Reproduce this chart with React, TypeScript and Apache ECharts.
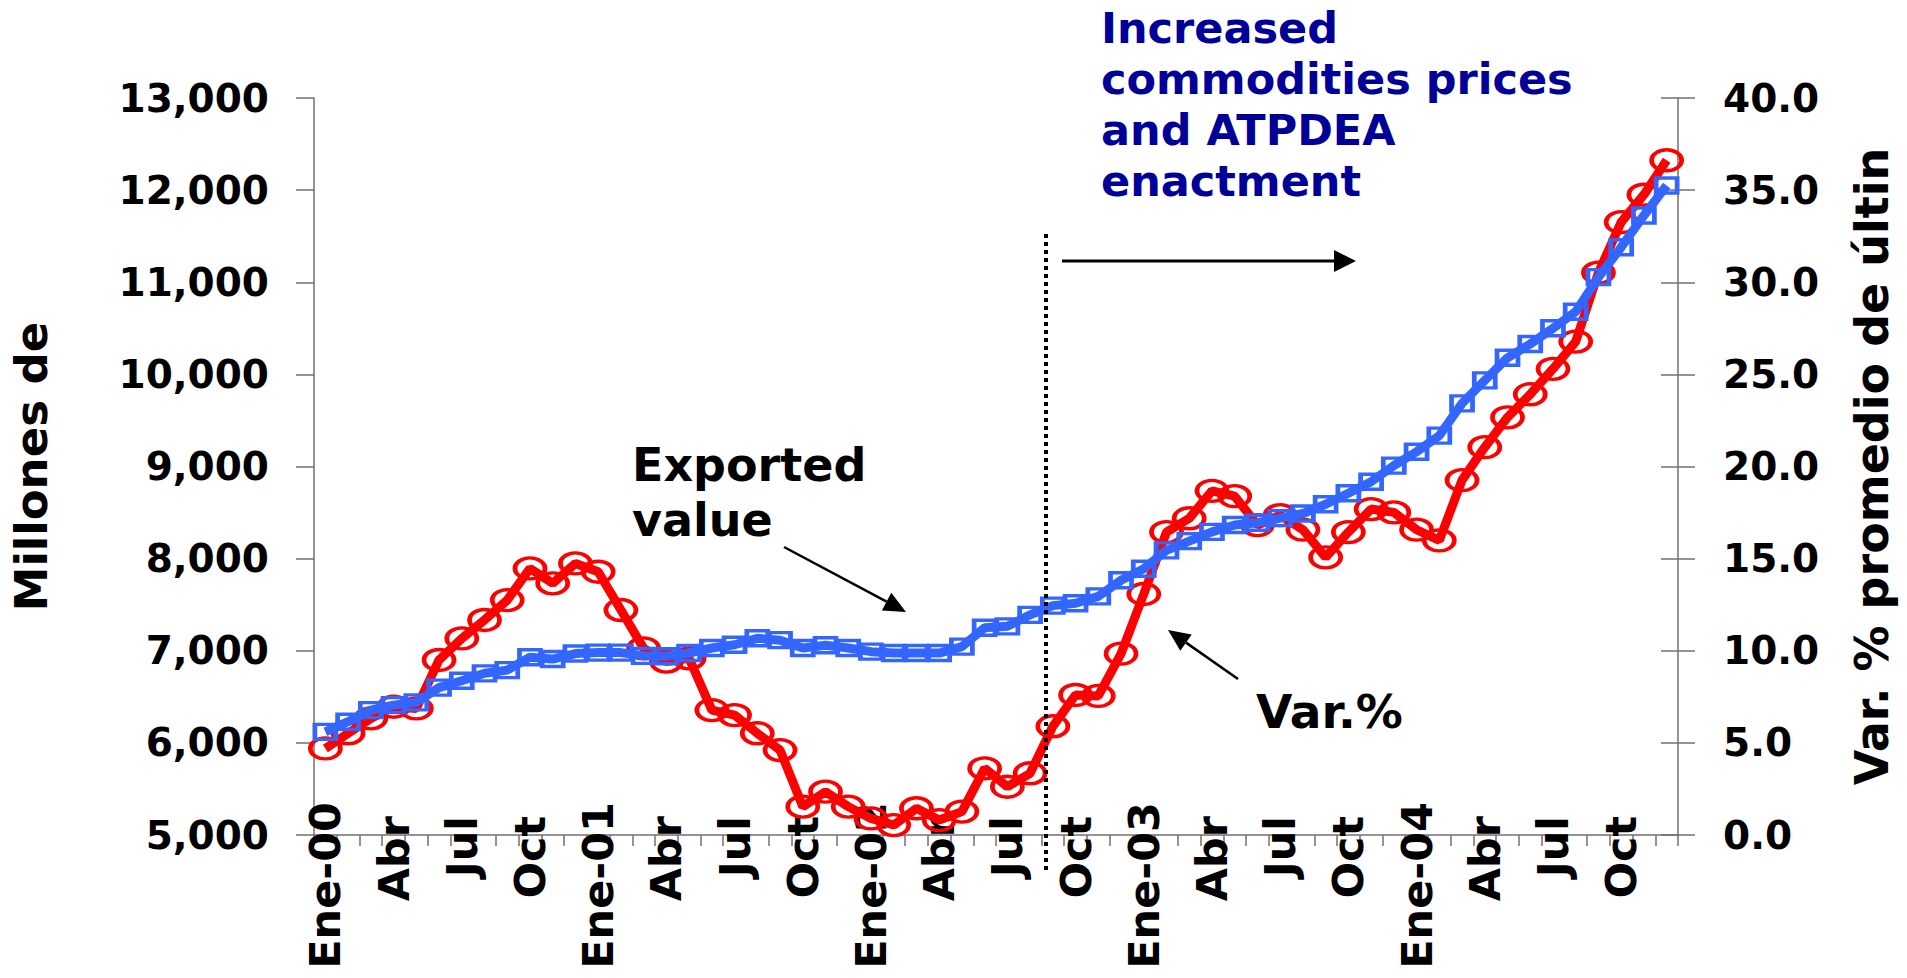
import React, { useEffect, useRef } from 'react';
import * as echarts from 'echarts';

const MONTHS = ['Ene', 'Feb', 'Mar', 'Abr', 'May', 'Jun', 'Jul', 'Ago', 'Sep', 'Oct', 'Nov', 'Dic'];
const YEARS = ['00', '01', '02', '03', '04'];
const categories = YEARS.flatMap((y) => MONTHS.map((m) => `${m}-${y}`));

// Exported value (Millones de US$), left axis
const exportedValue = [
  6120, 6230, 6355, 6410, 6440, 6600, 6675, 6755, 6790, 6930,
  6910, 6970, 6980, 6980, 6945, 6940, 6975, 7030, 7065, 7135,
  7115, 7030, 7060, 7030, 6990, 6975, 6975, 6975, 7045, 7250,
  7265, 7390, 7490, 7515, 7590, 7765, 7890, 8090, 8190, 8290,
  8365, 8390, 8440, 8490, 8590, 8710, 8835, 9010, 9160, 9335,
  9685, 9935, 10180, 10330, 10500, 10680, 11055, 11380, 11725, 12050,
];

// Var. % (right axis)
const varPct = [
  4.7, 5.52, 6.33, 6.96, 6.87, 9.5, 10.67, 11.67, 12.75, 14.47,
  13.66, 14.74, 14.29, 12.21, 10.13, 9.41, 9.59, 6.78, 6.51, 5.52,
  4.61, 1.54, 2.35, 1.54, 0.9, 0.54, 1.45, 0.81, 1.27, 3.62,
  2.62, 3.35, 5.9, 7.6, 7.55, 9.84, 13.08, 16.44, 17.19, 18.68,
  18.39, 16.82, 17.36, 16.57, 15.07, 16.44, 17.69, 17.51, 16.57, 15.99,
  19.26, 21.05, 22.67, 23.92, 25.3, 26.78, 30.52, 33.26, 34.75, 36.62,
];

const leftAxisName = 'Millones de';
const rightAxisName = 'Var. % promedio de últin';
const noteTitle = 'Increased\ncommodities prices\nand ATPDEA\nenactment';
const noteExported = 'Exported\nvalue';
const noteVar = 'Var.%';

const FONT = '"DejaVu Sans", Verdana, sans-serif';
const AXIS_GRAY = '#707070';
const ELLIPSE = 'path://M0,10A20,10 0 1,1 40,10A20,10 0 1,1 0,10Z';

function arrow(x1: number, y1: number, x2: number, y2: number, len = 22, half = 10, width = 2.5) {
  const a = Math.atan2(y2 - y1, x2 - x1);
  const bx = x2 - len * Math.cos(a);
  const by = y2 - len * Math.sin(a);
  const px = -Math.sin(a) * half;
  const py = Math.cos(a) * half;
  return [
    { type: 'line', shape: { x1, y1, x2: bx, y2: by }, style: { stroke: '#000', lineWidth: width }, silent: true, z: 20 },
    {
      type: 'polygon',
      shape: { points: [[x2, y2], [bx + px, by + py], [bx - px, by - py]] },
      style: { fill: '#000' },
      silent: true,
      z: 20,
    },
  ];
}

export default function App() {
  const ref = useRef<HTMLDivElement>(null);

  useEffect(() => {
    if (!ref.current) return;
    const chart = echarts.init(ref.current, undefined, { renderer: 'svg' });
    const labelText = { fontFamily: FONT, fontWeight: 'bold' as const, color: '#000' };

    chart.setOption({
      animation: false,
      backgroundColor: '#fff',
      grid: { left: 314, right: 229, top: 98, bottom: 143, containLabel: false },
      xAxis: [
        {
          type: 'category',
          data: categories,
          boundaryGap: true,
          axisLine: { show: true, lineStyle: { color: AXIS_GRAY, width: 1.5 } },
          axisTick: { show: true, interval: 0, length: 11, lineStyle: { color: AXIS_GRAY, width: 1.5 } },
          axisLabel: {
            interval: 2,
            rotate: 90,
            margin: -33,
            fontSize: 43,
            ...labelText,
            formatter: (v: string) => (v.startsWith('Ene') ? v : `{m|${v.slice(0, 3)}}`),
            rich: { m: { padding: [0, 14, 0, 0], fontSize: 43, ...labelText } },
          },
          splitLine: { show: false },
        },
      ],
      yAxis: [
        {
          type: 'value',
          position: 'left',
          min: 5000,
          max: 13000,
          interval: 1000,
          axisLine: { show: true, lineStyle: { color: AXIS_GRAY, width: 1.5 } },
          axisTick: { show: true, length: 18, lineStyle: { color: AXIS_GRAY, width: 1.5 } },
          axisLabel: {
            margin: 45,
            fontSize: 39,
            ...labelText,
            formatter: (v: number) => v.toLocaleString('en-US'),
          },
          splitLine: { show: false },
          name: leftAxisName,
          nameLocation: 'middle',
          nameRotate: 90,
          nameGap: 260,
          nameTextStyle: { fontSize: 45, ...labelText },
        },
        {
          type: 'value',
          position: 'right',
          min: 0,
          max: 40,
          interval: 5,
          axisLine: { show: true, lineStyle: { color: AXIS_GRAY, width: 1.5 } },
          axisTick: { show: true, length: 17, lineStyle: { color: AXIS_GRAY, width: 1.5 } },
          axisLabel: {
            margin: 45,
            fontSize: 39,
            ...labelText,
            formatter: (v: number) => v.toFixed(1),
          },
          splitLine: { show: false },
          name: rightAxisName,
          nameLocation: 'middle',
          nameRotate: 90,
          nameGap: 171,
          nameTextStyle: { fontSize: 46, ...labelText },
        },
        {
          type: 'value',
          position: 'right',
          min: 0,
          max: 40,
          interval: 5,
          axisLine: { show: false },
          axisTick: { show: true, inside: true, length: 17, lineStyle: { color: AXIS_GRAY, width: 1.5 } },
          axisLabel: { show: false },
          splitLine: { show: false },
        },
      ],
      series: [
        {
          type: 'line',
          name: 'Var.%',
          yAxisIndex: 1,
          data: varPct,
          symbol: ELLIPSE,
          symbolSize: [30, 21],
          showSymbol: true,
          showAllSymbol: true,
          lineStyle: { color: '#FF0000', width: 9 },
          itemStyle: { color: 'rgba(0,0,0,0)', borderColor: '#FF0000', borderWidth: 4 },
          emphasis: { disabled: true },
          silent: true,
          z: 3,
        },
        {
          type: 'line',
          name: 'Exported value',
          yAxisIndex: 0,
          data: exportedValue,
          symbol: 'rect',
          symbolSize: [21, 15],
          showSymbol: true,
          showAllSymbol: true,
          lineStyle: { color: '#3366FF', width: 9 },
          itemStyle: { color: 'rgba(0,0,0,0)', borderColor: '#3366FF', borderWidth: 4 },
          emphasis: { disabled: true },
          silent: true,
          z: 4,
        },
      ],
      graphic: [
        {
          type: 'text',
          x: 1101,
          y: 2,
          silent: true,
          style: {
            text: noteTitle,
            fill: '#000099',
            fontFamily: FONT,
            fontWeight: 'bold',
            fontSize: 43,
            lineHeight: 51,
            align: 'left',
            verticalAlign: 'top',
          },
          z: 20,
        },
        {
          type: 'text',
          x: 632,
          y: 437,
          silent: true,
          style: {
            text: noteExported,
            fill: '#000',
            fontFamily: FONT,
            fontWeight: 'bold',
            fontSize: 46,
            lineHeight: 55,
            align: 'left',
            verticalAlign: 'top',
          },
          z: 20,
        },
        {
          type: 'text',
          x: 1256,
          y: 711,
          silent: true,
          style: {
            text: noteVar,
            fill: '#000',
            fontFamily: FONT,
            fontWeight: 'bold',
            fontSize: 47,
            align: 'left',
            verticalAlign: 'middle',
          },
          z: 20,
        },
        {
          type: 'line',
          silent: true,
          shape: { x1: 1046, y1: 234, x2: 1046, y2: 871 },
          style: { stroke: '#000', lineWidth: 4, lineDash: [4, 4] },
          z: 20,
        },
        ...arrow(1062, 261, 1356, 261, 22, 11, 3),
        ...arrow(784, 547, 906, 612, 22, 10, 2.5),
        ...arrow(1238, 679, 1168, 630, 22, 10, 2.5),
      ],
    });

    return () => chart.dispose();
  }, []);

  return (
    <div
      ref={ref}
      style={{ position: 'absolute', left: 0, top: 0, width: '1907px', height: '978px', background: '#fff' }}
    />
  );
}
